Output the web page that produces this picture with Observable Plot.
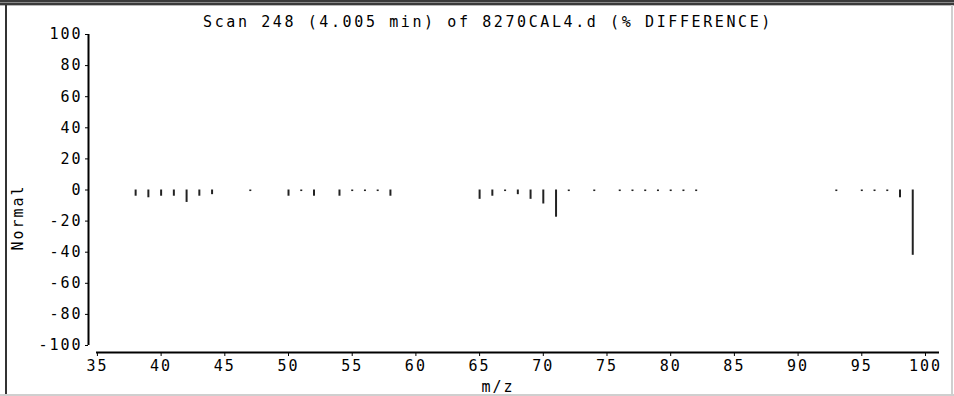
<!DOCTYPE html>
<html>
<head>
<meta charset="utf-8">
<script src="https://cdn.jsdelivr.net/npm/d3@7"></script>
<script src="https://cdn.jsdelivr.net/npm/@observablehq/plot@0.6"></script>
<style>
  html, body { margin: 0; padding: 0; background: #fff; }
  #wrap { position: relative; width: 954px; height: 396px; overflow: hidden; }
  .bar { position: absolute; }
</style>
</head>
<body>
<div id="wrap"></div>
<script>
const title = "Scan 248 (4.005 min) of 8270CAL4.d (% DIFFERENCE)";
const yLabel = "Normal";
const xLabel = "m/z";
const mz = [38, 39, 40, 41, 42, 43, 44, 47, 50, 51, 52, 54, 55, 56, 57, 58,
            65, 66, 67, 68, 69, 70, 71, 72, 74, 76, 77, 78, 79, 80, 81, 82,
            93, 95, 96, 97, 98, 99];
const diff = [-4, -5, -4, -4, -8, -4, -3, -1, -4, -1, -4, -4, -1, -1, -1, -4,
              -6, -4, -1, -3, -6, -9, -17.5, -1, -1, -1, -1, -1, -1, -1, -1, -1,
              -1, -1, -1, -1, -5, -42];
const xTicks = [35, 40, 45, 50, 55, 60, 65, 70, 75, 80, 85, 90, 95, 100];
const yTicks = [-100, -80, -60, -40, -20, 0, 20, 40, 60, 80, 100];

const data = mz.map((m, i) => ({mz: m, value: diff[i]}));

const font = "'DejaVu Sans Mono', 'Liberation Mono', monospace";

const chart = Plot.plot({
  width: 954,
  height: 396,
  marginLeft: 88,
  marginRight: 15,
  marginTop: 34,
  marginBottom: 44,
  style: {fontFamily: font, fontSize: "15px", letterSpacing: "2px", color: "#000", background: "transparent"},
  x: {domain: [34.3, 101.1], label: null},
  y: {domain: [-104.5, 100], label: null},
  marks: [
    Plot.axisY({ticks: yTicks, tickSize: 3, tickPadding: 3, tickFormat: d => String(d), stroke: "#000", fill: "#000", fontSize: 15}),
    Plot.axisX({ticks: xTicks, tickSize: 4, tickPadding: 4, tickFormat: d => String(d), stroke: "#000", fill: "#000", fontSize: 15}),
    Plot.ruleX([34.3], {y1: -100, y2: 100, stroke: "#000", strokeWidth: 2}),
    Plot.ruleY([-104.5], {x1: 34.93, x2: 101.1, stroke: "#000", strokeWidth: 2}),
    Plot.ruleX(data, {x: "mz", y1: 0, y2: "value", stroke: "#222", strokeWidth: 2}),
    Plot.text([title], {frameAnchor: "top", dx: -26, dy: -18, fontSize: 15, fill: "#000", className: "ttl"}),
    Plot.text([yLabel], {frameAnchor: "left", textAnchor: "middle", rotate: -90, dx: -70, dy: 24, fontSize: 15, fill: "#000"}),
    Plot.text([xLabel], {frameAnchor: "bottom", dx: -16, dy: 39, fontSize: 15, fill: "#000"})
  ]
});

d3.select(chart).selectAll(".ttl text").style("letter-spacing", "2.6px");

const wrap = document.getElementById("wrap");
wrap.appendChild(chart);
chart.style.position = "absolute";
chart.style.left = "0";
chart.style.top = "0";

function addBar(css) {
  const d = document.createElement("div");
  d.className = "bar";
  Object.assign(d.style, css);
  wrap.appendChild(d);
}
// window frame
addBar({left: "0", top: "0", width: "954px", height: "2px", background: "#3a3a3a"});
addBar({left: "0", top: "2px", width: "954px", height: "1px", background: "#8a8a8a"});
addBar({left: "0", top: "3px", width: "954px", height: "2px", background: "#3a3a3a"});
addBar({left: "0", top: "5px", width: "954px", height: "1px", background: "#b8b8b8"});
addBar({left: "5px", top: "5px", width: "2px", height: "391px", background: "#333"});
addBar({left: "0", top: "394px", width: "954px", height: "2px", background: "#cfcfcf"});
addBar({left: "951px", top: "5px", width: "2px", height: "391px", background: "#cfcfcf"});
</script>
</body>
</html>
